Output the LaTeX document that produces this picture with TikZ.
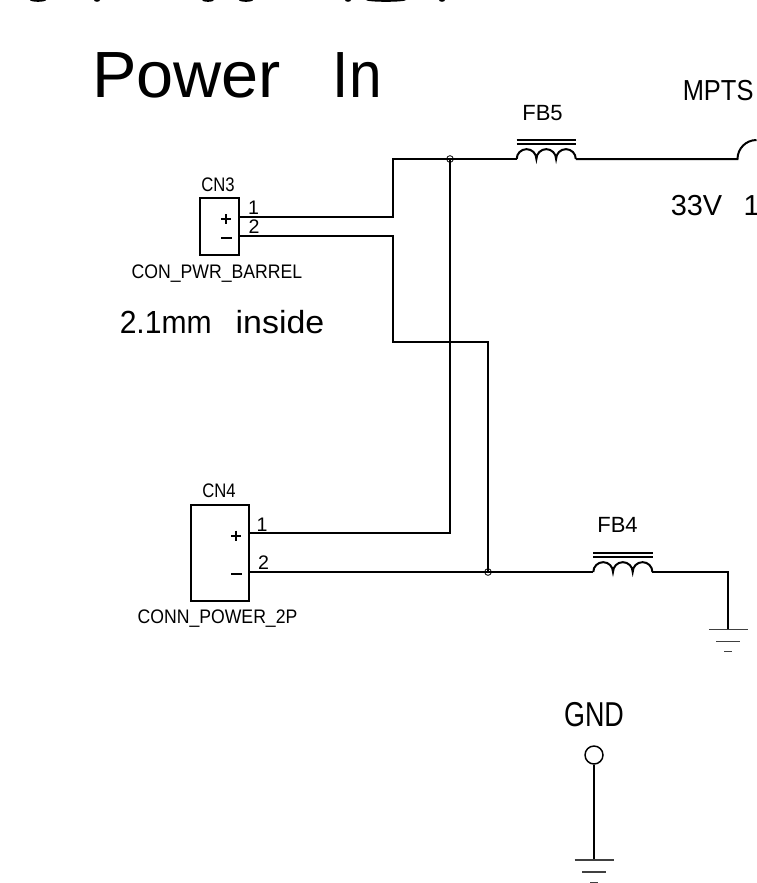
\documentclass[tikz,border=0pt]{standalone}
\usepackage{fontspec}
\setmainfont{Liberation Sans}
\tikzset{
  wire/.style={line width=1.5pt,line join=miter},
  thinw/.style={line width=0.8pt,black!75},
  txt/.style={inner sep=0pt},
  jn/.style={circle,draw,line width=0.6pt,minimum size=5pt,inner sep=0pt},
  pinbox/.style={draw,line width=1.5pt,inner sep=0pt},
}
\newcommand{\lab}[3]{\scalebox{#1}[1]{\fontsize{#2}{#2}\selectfont #3}}
\newcommand{\myinductor}[2]{%
  \draw[wire] (#1,#2) arc[start angle=180,end angle=360,radius=9.85] arc[start angle=180,end angle=360,radius=9.85] arc[start angle=180,end angle=360,radius=9.85];
  \draw[wire,line width=1.3pt] (#1,#2-19) -- ++(59.5,0);
  \draw[wire,line width=1.3pt] (#1,#2-15.2) -- ++(59.5,0);}
\newcommand{\mygnd}[2]{%
  \draw[thinw] (#1-19.5,#2) -- ++(39,0);
  \draw[thinw] (#1-12,#2+12) -- ++(24,0);
  \draw[thinw] (#1-4,#2+22.3) -- ++(8,0);}
\begin{document}
\begin{tikzpicture}[x=0.75pt,y=-0.75pt]
\useasboundingbox (0,0) rectangle (757,883);
\clip (0,0) rectangle (757,883);
% clipped remains of a line of text at the top edge
\fill (38,0) ellipse[x radius=8,y radius=1.8];
\fill (97,0) ellipse[x radius=3,y radius=1.8];
\fill (208,0) ellipse[x radius=6,y radius=1.8];
\fill (246,0) ellipse[x radius=7,y radius=1.8];
\fill (348,0) ellipse[x radius=3,y radius=1.8];
\fill (386,0) ellipse[x radius=20,y radius=1.8];
\fill (442,0) ellipse[x radius=3,y radius=1.8];
% texts
\node[anchor=base west,txt] (title) at (92,97) {\lab{1.02}{49}{Power\hspace{38pt}\scalebox{0.88}[1]{In}}};
\node[anchor=base west,txt] (mpts) at (682.5,100.5) {\lab{0.88}{21.7}{MPTS}};
\node[anchor=base west,txt] (v33) at (670.5,215.5) {\lab{1}{21.7}{33V\hspace{16pt}1A}};
\node[anchor=base,txt] (fb5) at (542.5,120) {\lab{1}{16.5}{FB5}};
\node[anchor=base,txt] (fb4) at (617.5,532.3) {\lab{1}{16.5}{FB4}};
\node[anchor=base,txt] (cn3) at (218,191) {\lab{0.85}{14.7}{CN3}};
\node[anchor=base,txt] (cn4) at (219,497) {\lab{0.85}{14.7}{CN4}};
\node[anchor=base,txt] (cpb) at (217,278) {\lab{0.9}{14.7}{CON\_PWR\_BARREL}};
\node[anchor=base,txt] (cp2) at (217.5,623) {\lab{0.9}{14.7}{CONN\_POWER\_2P}};
\node[anchor=base west,txt] (ins) at (119.5,333) {\lab{1}{24}{\scalebox{0.94}[1]{2.1mm}\hspace{18pt}\scalebox{1.06}[1]{inside}}};
\node[anchor=base,txt] (gnd) at (594,726.5) {\lab{0.78}{25.9}{GND}};
\node[anchor=base,txt] (n31) at (253.5,214) {\lab{1}{14.7}{1}};
\node[anchor=base,txt] (n32) at (254,233) {\lab{1}{14.7}{2}};
\node[anchor=base,txt] (n41) at (262,531) {\lab{1}{14.7}{1}};
\node[anchor=base,txt] (n42) at (263.5,569) {\lab{1}{14.7}{2}};
% connector boxes
\node[pinbox,minimum width=28.9pt,minimum height=42.75pt] (box3) at (219.75,226.5) {};
\node[pinbox,minimum width=43.5pt,minimum height=72pt] (box4) at (219.7,552.7) {};
% plus and minus
\draw[wire] (221,219) -- (231,219) (226,214) -- (226,224);
\draw[wire] (221,238) -- (232,238);
\draw[wire] (231,535.7) -- (241,535.7) (236,530.7) -- (236,540.7);
\draw[wire] (231,574) -- (242,574);
% named points
\coordinate (p31) at (box3.east |- 0,216.5);
\coordinate (p32) at (box3.east |- 0,235.5);
\coordinate (p41) at (box4.east |- 0,533.3);
\coordinate (p42) at (box4.east |- 0,572);
\coordinate (a1) at (392.5,216.5);
\coordinate (a2) at (392.5,159);
\coordinate (b1) at (392.5,235.5);
\coordinate (b2) at (392.5,342);
\coordinate (b3) at (488,342);
\coordinate (c1) at (450,533.3);
\node[jn] (j1) at (450,159) {};
\node[jn] (j2) at (488,572) {};
\coordinate (fb5l) at (516.7,159);
\coordinate (fb5r) at (575.8,159);
\coordinate (mp) at (737.5,159);
\coordinate (fb4l) at (593.3,572);
\coordinate (fb4r) at (652.4,572);
\coordinate (g1) at (728.3,572);
\coordinate (g2) at (728.3,629.3);
\node[circle,draw,line width=1.1pt,minimum size=13.5pt,inner sep=0pt] (tp) at (594,755) {};
\coordinate (g3) at (594,860);
% wires
\draw[wire] (p31) -- (a1) -- (a2) -- (j1.center) -- (fb5l);
\draw[wire] (fb5r) -- (mp) arc[start angle=180,end angle=270,radius=19];
\draw[wire] (p32) -- (b1) -- (b2) -- (b3) -- (j2.center);
\draw[wire] (j1.center) -- (c1) -- (p41);
\draw[wire] (p42) -- (j2.center) -- (fb4l);
\draw[wire] (fb4r) -- (g1) -- (g2);
\draw[line width=1.1pt] (tp) -- (g3);
\myinductor{516.7}{159}
\myinductor{593.3}{572}
\mygnd{728.3}{629.3}
\mygnd{594}{860}
\end{tikzpicture}
\end{document}
